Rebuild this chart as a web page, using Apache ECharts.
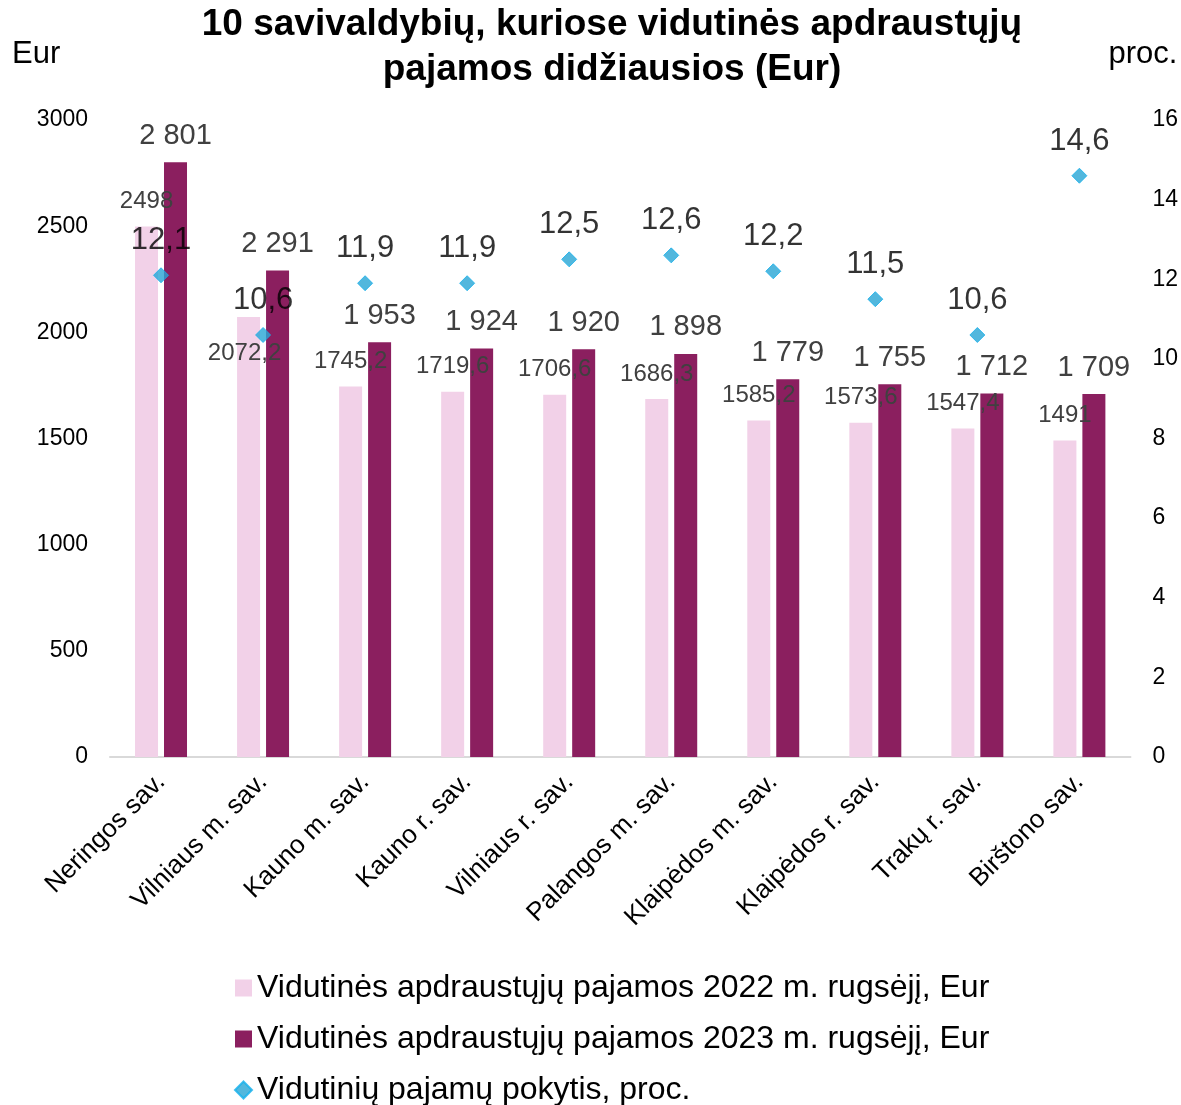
<!DOCTYPE html>
<html>
<head>
<meta charset="utf-8">
<script src="https://cdn.jsdelivr.net/npm/echarts@6/dist/echarts.min.js"></script>
<style>
  html, body { margin: 0; padding: 0; background: #fff; }
  #chart { width: 1181px; height: 1105px; }
</style>
</head>
<body>
<div id="chart"></div>
<script>
// duomenys
var categories = ['Neringos sav.', 'Vilniaus m. sav.', 'Kauno m. sav.', 'Kauno r. sav.', 'Vilniaus r. sav.',
  'Palangos m. sav.', 'Klaipėdos m. sav.', 'Klaipėdos r. sav.', 'Trakų r. sav.', 'Birštono sav.'];
var income2022 = [2498, 2072.2, 1745.2, 1719.6, 1706.6, 1686.3, 1585.2, 1573.6, 1547.4, 1491];
var income2023 = [2801, 2291, 1953, 1924, 1920, 1898, 1779, 1755, 1712, 1709];
var change = [12.1, 10.6, 11.9, 11.9, 12.5, 12.6, 12.2, 11.5, 10.6, 14.6];
var leftTicks = [0, 3000, 500];
var rightTicks = [0, 16, 2];

(function () {
  var myChart = echarts.init(document.getElementById('chart'));
  var font = 'Liberation Sans, Arial, sans-serif';

  var data2022 = income2022.map(function (v, i) {
    var item = { value: v };
    if (i === 1) {
      item.label = { offset: [-4, 61] };
    }
    return item;
  });

  var option = {
    textStyle: { fontFamily: font },
    title: {
      text: '10 savivaldybių, kuriose vidutinės apdraustųjų\npajamos didžiausios (Eur)',
      left: 607,
      textAlign: 'center',
      top: -3,
      textStyle: { fontSize: 37, fontWeight: 'bold', color: '#000', lineHeight: 45, fontFamily: font }
    },
    legend: {
      orient: 'vertical',
      left: 234,
      top: 972,
      height: 300,
      padding: 0,
      itemGap: 19,
      itemWidth: 17,
      itemHeight: 17,
      textStyle: { fontSize: 32, lineHeight: 32, color: '#000', fontFamily: font },
      data: [
        { name: 'Vidutinės apdraustųjų pajamos 2022 m. rugsėjį, Eur', icon: 'rect' },
        { name: 'Vidutinės apdraustųjų pajamos 2023 m. rugsėjį, Eur', icon: 'rect' },
        { name: 'Vidutinių pajamų pokytis, proc.', icon: 'diamond' }
      ]
    },
    grid: { left: 110, right: 48, top: 120, bottom: 348 },
    xAxis: {
      type: 'category',
      data: categories,
      axisLine: { lineStyle: { color: '#d9d9d9', width: 2 } },
      axisTick: { show: false },
      axisLabel: { rotate: 45, fontSize: 26, color: '#000', margin: 21, interval: 0 }
    },
    yAxis: [
      {
        type: 'value',
        name: 'Eur',
        nameLocation: 'end',
        nameGap: 0,
        nameTextStyle: { fontSize: 31, color: '#000', align: 'left', padding: [0, 0, 50, -98] },
        min: leftTicks[0], max: leftTicks[1], interval: leftTicks[2],
        splitLine: { show: false },
        axisLine: { show: false },
        axisTick: { show: false },
        axisLabel: { fontSize: 23, color: '#000', margin: 22, formatter: function (v) { return String(v); } }
      },
      {
        type: 'value',
        name: 'proc.',
        nameLocation: 'end',
        nameGap: 0,
        nameTextStyle: { fontSize: 31, color: '#000', align: 'right', padding: [0, -47, 50, 0] },
        min: rightTicks[0], max: rightTicks[1], interval: rightTicks[2],
        splitLine: { show: false },
        axisLine: { show: false },
        axisTick: { show: false },
        axisLabel: { fontSize: 23, color: '#000', margin: 22 }
      }
    ],
    series: [
      {
        name: 'Vidutinės apdraustųjų pajamos 2022 m. rugsėjį, Eur',
        type: 'bar',
        barWidth: 23,
        barGap: '26%',
        itemStyle: { color: '#f2d1e8' },
        label: {
          show: true,
          position: 'top',
          distance: 13,
          fontSize: 24,
          color: '#404040',
          formatter: function (p) { return String(p.value).replace('.', ','); }
        },
        data: data2022
      },
      {
        name: 'Vidutinės apdraustųjų pajamos 2023 m. rugsėjį, Eur',
        type: 'bar',
        barWidth: 23,
        barGap: '26%',
        itemStyle: { color: '#8b1f5f' },
        label: {
          show: true,
          position: 'top',
          distance: 12,
          fontSize: 29,
          color: '#404040',
          formatter: function (p) {
            var s = String(p.value);
            return s.length > 3 ? s.slice(0, s.length - 3) + ' ' + s.slice(-3) : s;
          }
        },
        data: income2023
      },
      {
        name: 'Vidutinių pajamų pokytis, proc.',
        type: 'scatter',
        yAxisIndex: 1,
        symbol: 'diamond',
        symbolSize: 15,
        itemStyle: { color: '#27a5d4', borderColor: '#14b0ec', borderWidth: 1 },
        label: {
          show: true,
          position: 'top',
          distance: 11,
          fontSize: 31,
          color: '#000',
          formatter: function (p) { return String(p.value).replace('.', ','); }
        },
        z: 5,
        data: change
      }
    ]
  };
  myChart.setOption(option);
  window.addEventListener('resize', function () { myChart.resize(); });
})();
</script>
</body>
</html>
